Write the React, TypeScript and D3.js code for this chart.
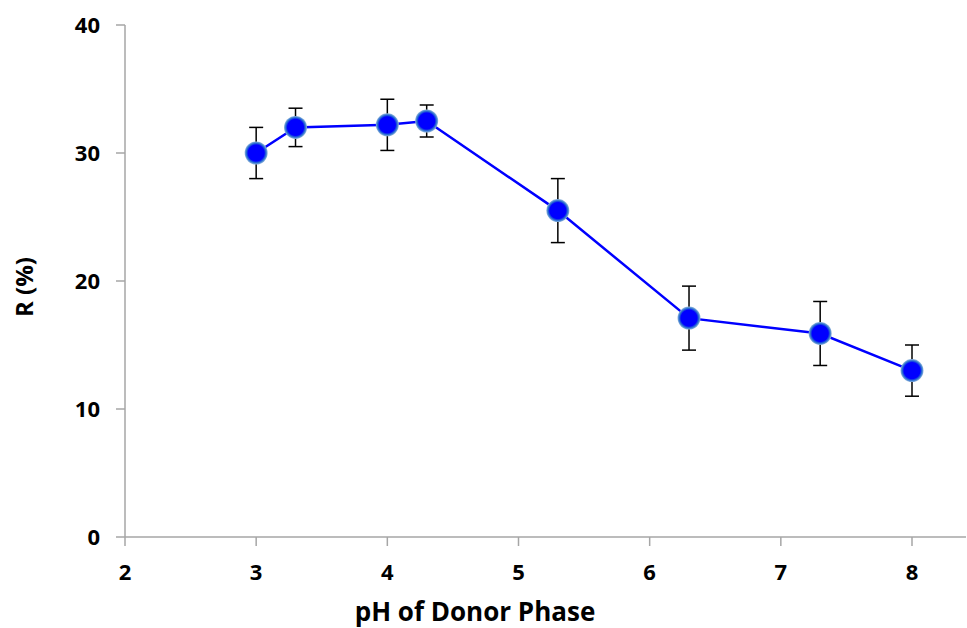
import React from "react";
import * as d3 from "d3";

const phValues = [3, 3.3, 4, 4.3, 5.3, 6.3, 7.3, 8];
const rValues = [30, 32, 32.2, 32.5, 25.5, 17.1, 15.9, 13];
const rErrors = [2, 1.5, 2, 1.25, 2.5, 2.5, 2.5, 2];
const xTicks = [2, 3, 4, 5, 6, 7, 8];
const yTicks = [0, 10, 20, 30, 40];

const W = 967;
const H = 628;
const FONT = "'Open Sans', 'DejaVu Sans', sans-serif";

export default function App() {
  const x = d3.scaleLinear().domain([2, 8]).range([125, 912]);
  const y = d3.scaleLinear().domain([0, 40]).range([537, 25]);
  const xEnd = 966;
  const pts = phValues.map((p, i) => ({ p, r: rValues[i], e: rErrors[i] }));
  const line = d3
    .line<{ p: number; r: number }>()
    .x((d) => x(d.p))
    .y((d) => y(d.r));
  const axisColor = "#a6a6a6";
  return (
    <svg
      width={W}
      height={H}
      style={{ position: "absolute", left: 0, top: 0, background: "#fff" }}
    >
      <defs>
        <radialGradient id="mk" cx="50%" cy="50%" r="50%">
          <stop offset="70%" stopColor="#0000ff" />
          <stop offset="85%" stopColor="#2a6fd0" />
          <stop offset="100%" stopColor="#8fb4dc" />
        </radialGradient>
      </defs>
      {/* axes */}
      <line x1={x(2)} x2={xEnd} y1={y(0)} y2={y(0)} stroke={axisColor} strokeWidth={1.5} />
      <line x1={x(2)} x2={x(2)} y1={y(0)} y2={y(40)} stroke={axisColor} strokeWidth={1.5} />
      {yTicks.map((t) => (
        <g key={"y" + t}>
          <line x1={116} x2={x(2)} y1={y(t)} y2={y(t)} stroke={axisColor} strokeWidth={1.5} />
          <text
            x={100}
            y={y(t)}
            dy="0.36em"
            textAnchor="end"
            fontFamily={FONT}
            fontWeight="bold"
            fontSize={22}
            fill="#000"
          >
            {t}
          </text>
        </g>
      ))}
      {xTicks.map((t) => (
        <g key={"x" + t}>
          <line x1={x(t)} x2={x(t)} y1={y(0)} y2={y(0) + 9} stroke={axisColor} strokeWidth={1.5} />
          <text
            x={x(t)}
            y={580}
            textAnchor="middle"
            fontFamily={FONT}
            fontWeight="bold"
            fontSize={22}
            fill="#000"
          >
            {t}
          </text>
        </g>
      ))}
      <text
        x={475}
        y={621}
        textAnchor="middle"
        fontFamily={FONT}
        fontWeight="bold"
        fontSize={26}
        fill="#000"
      >
        pH of Donor Phase
      </text>
      <text
        transform={`translate(33,287) rotate(-90)`}
        textAnchor="middle"
        fontFamily={FONT}
        fontWeight="bold"
        fontSize={24}
        fill="#000"
      >
        R (%)
      </text>
      {/* error bars */}
      {pts.map((d, i) => (
        <g key={"e" + i} stroke="#000" strokeWidth={1.5}>
          <line x1={x(d.p)} x2={x(d.p)} y1={y(d.r - d.e)} y2={y(d.r + d.e)} />
          <line x1={x(d.p) - 7} x2={x(d.p) + 7} y1={y(d.r - d.e)} y2={y(d.r - d.e)} />
          <line x1={x(d.p) - 7} x2={x(d.p) + 7} y1={y(d.r + d.e)} y2={y(d.r + d.e)} />
        </g>
      ))}
      <path d={line(pts) || ""} fill="none" stroke="#0000ff" strokeWidth={2.5} />
      {pts.map((d, i) => (
        <circle key={"c" + i} cx={x(d.p)} cy={y(d.r)} r={11.5} fill="url(#mk)" />
      ))}
    </svg>
  );
}
